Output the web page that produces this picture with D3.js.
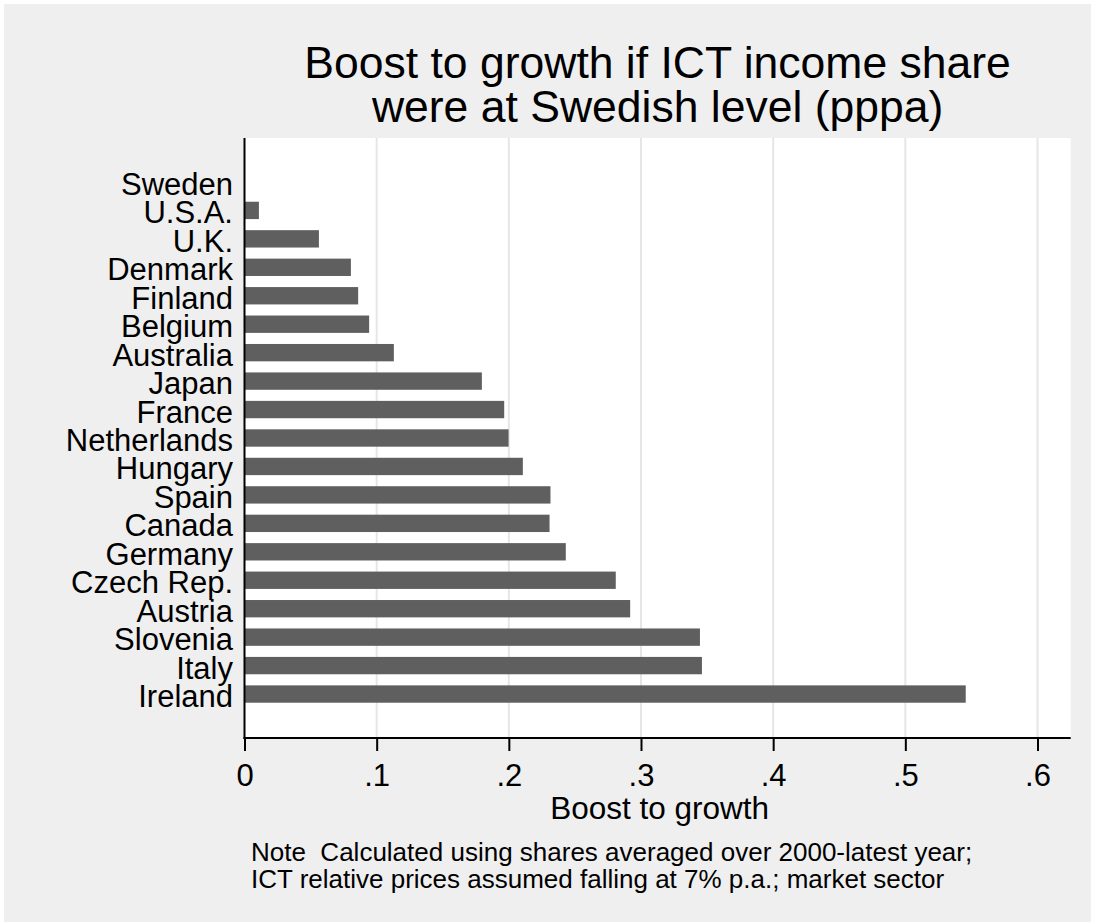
<!DOCTYPE html>
<html>
<head>
<meta charset="utf-8">
<script src="https://cdn.jsdelivr.net/npm/d3@7"></script>
<style>
  html, body { margin: 0; padding: 0; background: #ffffff; }
  svg text { font-family: "Liberation Sans", Arial, Helvetica, sans-serif; fill: #000; white-space: pre; }
</style>
</head>
<body>
<svg id="chart" width="1095" height="924"></svg>
<script>
// ---- data ----
const countries = ["Sweden", "U.S.A.", "U.K.", "Denmark", "Finland", "Belgium", "Australia", "Japan",
  "France", "Netherlands", "Hungary", "Spain", "Canada", "Germany", "Czech Rep.", "Austria",
  "Slovenia", "Italy", "Ireland"];
const boost = [0, 0.0109, 0.0563, 0.0805, 0.086, 0.0943, 0.113, 0.1796,
  0.1965, 0.1998, 0.2106, 0.2315, 0.2308, 0.2431, 0.2809, 0.2918,
  0.3446, 0.3461, 0.5457];
const xTicks = [0, 0.1, 0.2, 0.3, 0.4, 0.5, 0.6];
const xTickLabels = ["0", ".1", ".2", ".3", ".4", ".5", ".6"];
const titleLines = ["Boost to growth if ICT income share", "were at Swedish level (pppa)"];
const xAxisTitle = "Boost to growth";
const noteLines = ["Note  Calculated using shares averaged over 2000-latest year;",
  "ICT relative prices assumed falling at 7% p.a.; market sector"];

// ---- layout ----
const W = 1095, H = 924;
const plot = { left: 244.5, right: 1070.7, top: 138, bottom: 738 };
const svg = d3.select("#chart");

// outer background
svg.append("rect").attr("x", 0).attr("y", 0).attr("width", W).attr("height", H).attr("fill", "#ffffff");
svg.append("rect").attr("x", 4).attr("y", 4).attr("width", W - 8).attr("height", H - 6).attr("fill", "#efefef");

// plot region
svg.append("rect").attr("x", plot.left).attr("y", plot.top)
  .attr("width", plot.right - plot.left).attr("height", plot.bottom - plot.top).attr("fill", "#ffffff");

const x = d3.scaleLinear().domain([0, 0.6]).range([plot.left, plot.left + 793]);
const y = d3.scaleBand().domain(countries).range([plot.top, plot.bottom])
  .paddingInner(0.39).paddingOuter(1.24).align(0.5);

// gridlines
svg.append("g").selectAll("line").data(xTicks.filter(d => d > 0)).join("line")
  .attr("x1", d => x(d)).attr("x2", d => x(d))
  .attr("y1", plot.top).attr("y2", plot.bottom)
  .attr("stroke", "#e6e6e6").attr("stroke-width", 2);

// bars
const data = countries.map((c, i) => ({ c, v: boost[i] }));
svg.append("g").selectAll("rect").data(data).join("rect")
  .attr("x", x(0)).attr("y", d => y(d.c))
  .attr("width", d => x(d.v) - x(0)).attr("height", y.bandwidth())
  .attr("fill", "#5f5f5f");

// x axis
const xAxis = d3.axisBottom(x).tickValues(xTicks).tickFormat((d, i) => xTickLabels[i])
  .tickSizeInner(13).tickSizeOuter(0).tickPadding(34);
const gx = svg.append("g").attr("transform", `translate(0,${plot.bottom})`).call(xAxis);
gx.select(".domain").remove();
gx.append("line").attr("x1", plot.left - 1).attr("x2", plot.right).attr("y1", 0).attr("y2", 0)
  .attr("stroke", "#000").attr("stroke-width", 2);
gx.selectAll(".tick line").attr("stroke", "#000").attr("stroke-width", 2);
gx.selectAll(".tick text").attr("font-size", 31).attr("fill", "#000")
  .attr("font-family", "Liberation Sans, Arial, sans-serif")
  .attr("dy", null).attr("y", 47.5);

// y axis line
svg.append("line").attr("x1", plot.left).attr("x2", plot.left)
  .attr("y1", plot.top).attr("y2", plot.bottom + 1)
  .attr("stroke", "#000").attr("stroke-width", 2);

// y labels
svg.append("g").selectAll("text").data(countries).join("text")
  .attr("x", 233).attr("y", d => y(d) + y.bandwidth() / 2 + 13)
  .attr("text-anchor", "end").attr("font-size", 31).text(d => d);

// title
const cx = (plot.left + plot.right) / 2;
svg.append("g").selectAll("text").data(titleLines).join("text")
  .attr("x", cx).attr("y", (d, i) => 78 + i * 44.4)
  .attr("text-anchor", "middle").attr("font-size", 44.5).text(d => d);

// x axis title
svg.append("text").attr("x", cx + 2).attr("y", 818.5).attr("text-anchor", "middle")
  .attr("font-size", 31.5).text(xAxisTitle);

// note
svg.append("g").selectAll("text").data(noteLines).join("text")
  .attr("x", 251).attr("y", (d, i) => 861 + i * 26.8)
  .attr("font-size", 26).text(d => d);
</script>
</body>
</html>
